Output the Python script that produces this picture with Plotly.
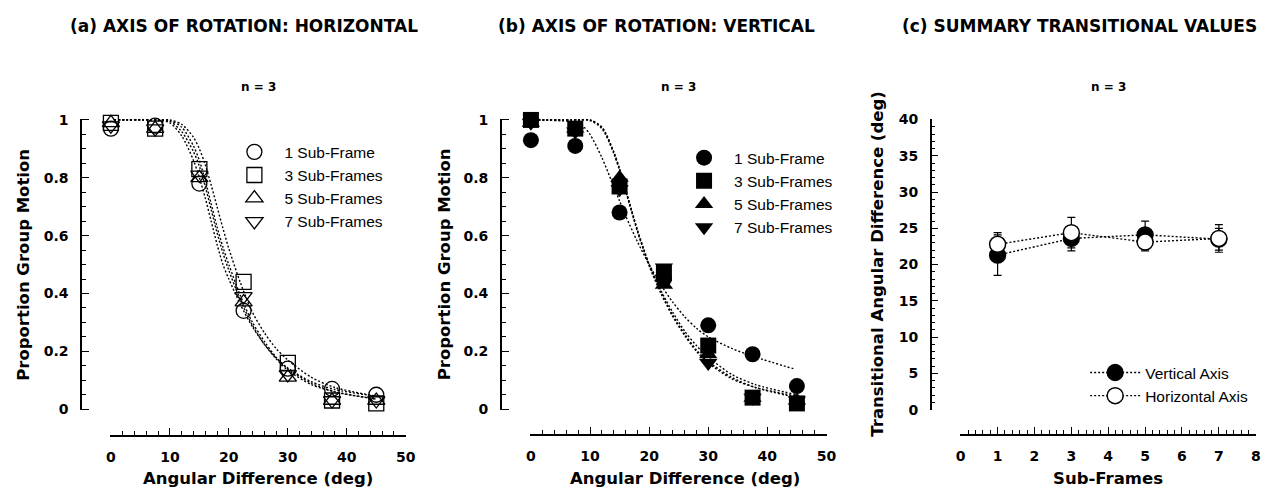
import plotly.graph_objects as go

W, H = 1277, 499

# ---------------- data ----------------
ANGLES = [0, 7.5, 15, 22.5, 30, 37.5, 45]
SERIES_NAMES = ["1 Sub-Frame", "3 Sub-Frames", "5 Sub-Frames", "7 Sub-Frames"]

# (a) horizontal axis of rotation: proportion group motion
H_SF1 = [0.97, 0.98, 0.78, 0.34, 0.14, 0.07, 0.05]
H_SF3 = [0.99, 0.97, 0.83, 0.44, 0.16, 0.03, 0.02]
H_SF5 = [0.99, 0.97, 0.80, 0.37, 0.11, 0.03, 0.03]
H_SF7 = [0.98, 0.97, 0.81, 0.39, 0.12, 0.03, 0.03]

# (b) vertical axis of rotation
V_SF1 = [0.93, 0.91, 0.68, 0.45, 0.29, 0.19, 0.08]
V_SF3 = [1.00, 0.97, 0.77, 0.47, 0.22, 0.04, 0.02]
V_SF5 = [0.99, 0.97, 0.80, 0.43, 0.19, 0.04, 0.03]
V_SF7 = [0.99, 0.96, 0.76, 0.49, 0.16, 0.04, 0.03]

# fitted curves
CURVE_X = [0.5, 8, 10, 12, 14, 15, 16, 17, 18, 19, 20, 22, 24, 26, 28, 30, 34, 38, 45]
H_FIT1 = [1, 1, 0.99, 0.945, 0.86, 0.80, 0.73, 0.65, 0.57, 0.50, 0.45, 0.36, 0.285, 0.225, 0.178, 0.142, 0.095, 0.068, 0.045]
H_FIT3 = [1, 1, 1.0, 0.985, 0.94, 0.90, 0.845, 0.775, 0.70, 0.625, 0.555, 0.435, 0.335, 0.265, 0.21, 0.17, 0.11, 0.075, 0.045]
H_FIT5 = [1, 1, 0.995, 0.96, 0.89, 0.84, 0.77, 0.69, 0.61, 0.54, 0.48, 0.375, 0.29, 0.225, 0.175, 0.135, 0.085, 0.06, 0.035]
H_FIT7 = [1, 1, 0.998, 0.975, 0.91, 0.86, 0.79, 0.71, 0.63, 0.56, 0.50, 0.39, 0.30, 0.235, 0.18, 0.14, 0.09, 0.06, 0.035]

CURVE_X_V1 = [0.5, 8, 9, 10, 12, 14, 15, 16, 18, 20, 22, 24, 26, 28, 30, 34, 38, 44.4]
V_FIT1 = [1, 0.99, 0.975, 0.95, 0.87, 0.77, 0.72, 0.67, 0.58, 0.50, 0.43, 0.37, 0.32, 0.28, 0.25, 0.21, 0.18, 0.14]
V_FIT3 = [1, 1, 1.0, 0.975, 0.89, 0.83, 0.76, 0.69, 0.62, 0.56, 0.50, 0.405, 0.325, 0.26, 0.205, 0.165, 0.11, 0.075, 0.04]
V_FIT5 = [1, 1, 0.998, 0.97, 0.885, 0.825, 0.755, 0.685, 0.615, 0.555, 0.50, 0.41, 0.335, 0.27, 0.22, 0.18, 0.12, 0.085, 0.05]
V_FIT7 = [1, 1, 0.999, 0.975, 0.89, 0.83, 0.76, 0.69, 0.62, 0.555, 0.495, 0.40, 0.32, 0.255, 0.20, 0.16, 0.105, 0.075, 0.045]

# (c) summary transitional values
SUB_FRAMES = [1, 3, 5, 7]
VERT_T = [21.3, 23.6, 24.1, 23.5]
VERT_ERR = [2.8, 1.7, 1.9, 1.5]
HORZ_T = [22.8, 24.4, 23.1, 23.6]
HORZ_ERR = [1.6, 2.1, 1.2, 1.9]

TITLES = ["(a) AXIS OF ROTATION: HORIZONTAL", "(b) AXIS OF ROTATION: VERTICAL",
          "(c) SUMMARY TRANSITIONAL VALUES"]

# ---------------- helpers ----------------
def fx(px):
    return px / W


def fy(py):
    return 1 - py / H


BOLD = "DejaVu Sans"
REG = "Liberation Sans, Arial, sans-serif"
DOT = "2px,2px"

fig = go.Figure()

open_syms = ["circle-open", "square-open", "triangle-up-open", "triangle-down-open"]
fill_syms = ["circle", "square", "triangle-up", "triangle-down"]

# panel a
for fit in [H_FIT1, H_FIT3, H_FIT5, H_FIT7]:
    fig.add_trace(go.Scatter(x=CURVE_X, y=fit, mode="lines", xaxis="x", yaxis="y",
                             line=dict(color="black", width=1.4, dash=DOT, shape="spline", smoothing=0.8),
                             showlegend=False, hoverinfo="skip"))
for name, ys, sym in zip(SERIES_NAMES, [H_SF1, H_SF3, H_SF5, H_SF7], open_syms):
    fig.add_trace(go.Scatter(x=ANGLES, y=ys, mode="markers", name=name, xaxis="x", yaxis="y",
                             marker=dict(symbol=sym, size=15, color="black", line=dict(width=1.3, color="black")),
                             cliponaxis=False, legend="legend"))

# panel b
v_fit_x = [CURVE_X_V1, CURVE_X, CURVE_X, CURVE_X]
for fx_, fit in zip(v_fit_x, [V_FIT1, V_FIT3, V_FIT5, V_FIT7]):
    fig.add_trace(go.Scatter(x=fx_, y=fit, mode="lines", xaxis="x2", yaxis="y2",
                             line=dict(color="black", width=1.4, dash=DOT, shape="spline", smoothing=0.8),
                             showlegend=False, hoverinfo="skip"))
for name, ys, sym in zip(SERIES_NAMES, [V_SF1, V_SF3, V_SF5, V_SF7], fill_syms):
    fig.add_trace(go.Scatter(x=ANGLES, y=ys, mode="markers", name=name, xaxis="x2", yaxis="y2",
                             marker=dict(symbol=sym, size=16, color="black", line=dict(width=0)),
                             cliponaxis=False, legend="legend2"))

# panel c
fig.add_trace(go.Scatter(x=SUB_FRAMES, y=VERT_T, mode="lines+markers", name="Vertical Axis",
                         xaxis="x3", yaxis="y3", legend="legend3",
                         line=dict(color="black", width=1.4, dash=DOT),
                         marker=dict(symbol="circle", size=16, color="black", line=dict(width=1.3, color="black")),
                         error_y=dict(type="data", array=VERT_ERR, color="black", thickness=1.2, width=4),
                         cliponaxis=False))
fig.add_trace(go.Scatter(x=SUB_FRAMES, y=HORZ_T, mode="lines+markers", name="Horizontal Axis",
                         xaxis="x3", yaxis="y3", legend="legend3",
                         line=dict(color="black", width=1.4, dash=DOT),
                         marker=dict(symbol="circle", size=16, color="white", line=dict(width=1.5, color="black")),
                         error_y=dict(type="data", array=HORZ_ERR, color="black", thickness=1.2, width=4),
                         cliponaxis=False))

# ---------------- axes ----------------
tickfont = dict(family=BOLD, size=14, color="black", weight="bold")


def xax(dom, ypos, rng, dtick, minor):
    return dict(domain=[fx(dom[0]), fx(dom[1])], anchor="free", position=fy(ypos), range=rng,
                tickmode="linear", tick0=0, dtick=dtick, ticks="inside", ticklen=7, tickwidth=1.3,
                tickcolor="black", showline=True, linecolor="black", linewidth=1.5,
                showgrid=False, zeroline=False, tickfont=tickfont, ticklabelstandoff=9,
                minor=dict(dtick=minor, ticks="inside", ticklen=4, tickwidth=1.1, tickcolor="black", showgrid=False),
                fixedrange=True)


def yax(dom, xpos, rng, dtick, minor):
    return dict(domain=[fy(dom[1]), fy(dom[0])], anchor="free", position=fx(xpos), range=rng,
                tickmode="linear", tick0=0, dtick=dtick, ticks="inside", ticklen=7, tickwidth=1.3,
                tickcolor="black", showline=True, linecolor="black", linewidth=1.5,
                showgrid=False, zeroline=False, tickfont=tickfont, ticklabelstandoff=9,
                minor=dict(dtick=minor, ticks="inside", ticklen=4, tickwidth=1.1, tickcolor="black", showgrid=False),
                fixedrange=True)


XA = (106.7, 406.0)
XB = (531.7, 831.7)
XC = (966.7, 1266.0)
YD = (115.0, 415.0)

layout = dict(
    width=W, height=H, margin=dict(l=0, r=0, t=0, b=0),
    paper_bgcolor="white", plot_bgcolor="white",
    xaxis=xax(XA, 441, [-0.08, 50.08], 10, 2),
    yaxis=yax(YD, 77, [-0.004, 1.004], 0.2, 0.05),
    xaxis2=xax(XB, 440, [-0.08, 50.08], 10, 2),
    yaxis2=yax(YD, 501.7, [-0.004, 1.004], 0.2, 0.05),
    xaxis3=xax(XC, 440, [-0.01, 8.01], 1, 0.2),
    yaxis3=yax(YD, 936.7, [-0.1, 40.1], 5, 1),
    legend=dict(x=fx(222), y=fy(132), xanchor="left", yanchor="top", bgcolor="rgba(0,0,0,0)",
                font=dict(family=REG, size=15.5, color="black"), itemwidth=50, itemclick=False),
    legend2=dict(x=fx(677), y=fy(138), xanchor="left", yanchor="top", bgcolor="rgba(0,0,0,0)",
                 font=dict(family=REG, size=15.5, color="black"), itemwidth=50, itemclick=False),
    legend3=dict(x=fx(1093), y=fy(359), xanchor="left", yanchor="top", bgcolor="rgba(0,0,0,0)",
                 font=dict(family=REG, size=15.5, color="black"), itemwidth=50, itemclick=False),
)
fig.update_layout(**layout)

# ---------------- text ----------------
ann = []
for t, cx in zip(TITLES, [242, 659, 1087]):
    ann.append(dict(text=t, x=fx(cx), y=fy(19.5), xanchor="center", yanchor="middle",
                    font=dict(family=BOLD, size=17, color="black", weight="bold")))
for cx in [(XA[0] + XA[1]) / 2, (XB[0] + XB[1]) / 2, (XC[0] + XC[1]) / 2]:
    ann.append(dict(text="n = 3", x=fx(cx), y=fy(82), xanchor="center", yanchor="middle",
                    font=dict(family=BOLD, size=12, color="black", weight="bold")))
for txt, cx in [("Angular Difference (deg)", (XA[0] + XA[1]) / 2),
                ("Angular Difference (deg)", (XB[0] + XB[1]) / 2 + 6),
                ("Sub-Frames", (XC[0] + XC[1]) / 2)]:
    ann.append(dict(text=txt, x=fx(cx), y=fy(485), xanchor="center", yanchor="middle",
                    font=dict(family=BOLD, size=16.5, color="black", weight="bold")))
for txt, cx in [("Proportion Group Motion", 18.5), ("Proportion Group Motion", 445),
                ("Transitional Angular Difference (deg)", 882.5)]:
    ann.append(dict(text=txt, x=fx(cx), y=fy(265), xanchor="center", yanchor="middle", textangle=-90,
                    font=dict(family=BOLD, size=16.5, color="black", weight="bold")))
for a in ann:
    a.update(xref="paper", yref="paper", showarrow=False)
fig.update_layout(annotations=ann)

fig.write_html("out.html")
